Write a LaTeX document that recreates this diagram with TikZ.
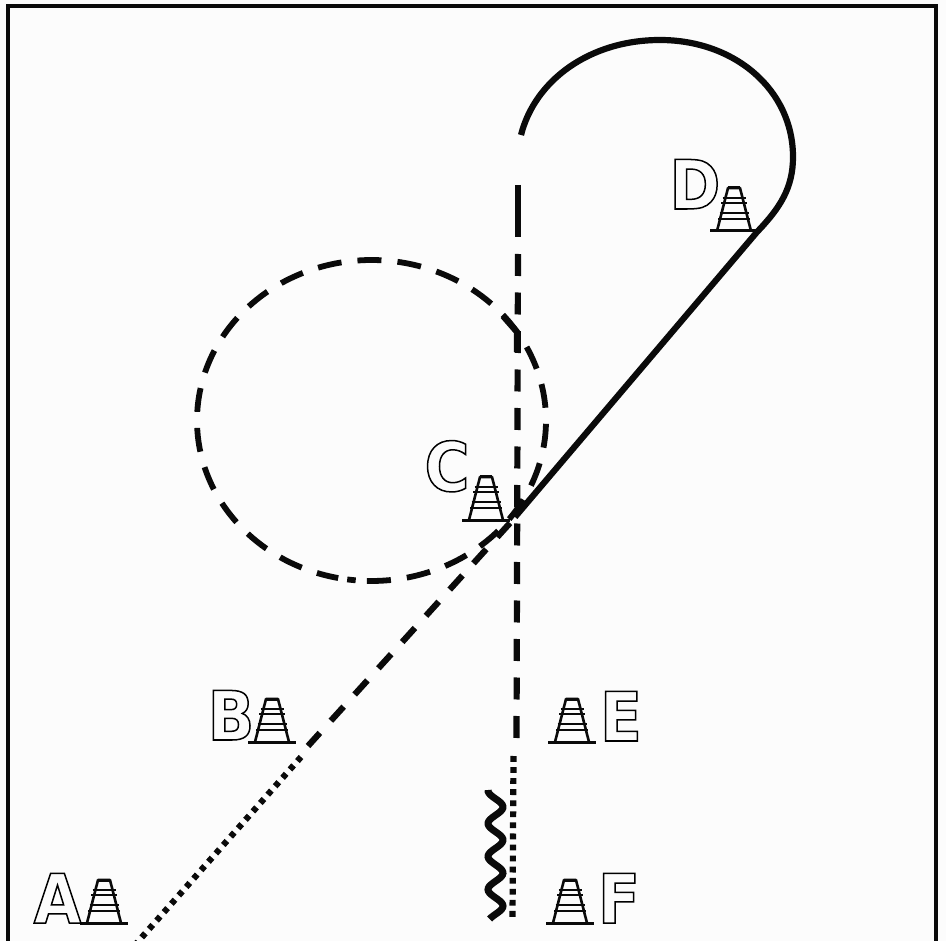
\documentclass[tikz,border=0pt]{standalone}
\usepackage{fontspec}
\setmainfont{Liberation Sans}
\newfontfamily\letterfont[FakeStretch=0.9]{DejaVu Sans Bold}
\newcommand{\outl}[1]{\special{pdf:code q 1 Tr 1.5 w}#1\special{pdf:code Q}}
\definecolor{ink}{HTML}{0A0A0A}
\tikzset{
  x=1pt,y=-1pt,
  route/.style={draw=ink,line width=6.2pt},
  dashroute/.style={route,dash pattern=on 22pt off 16.5pt},
  dotroute/.style={draw=ink,line width=6.2pt,dash pattern=on 5.8pt off 5.27pt},
  letter/.style={font=\letterfont\fontsize{68}{68}\selectfont,inner sep=0pt,anchor=base},
  pics/cone/.style={code={
    \draw[ink,line width=3pt] (-24,0) -- (24,0);
    \draw[ink,line width=2.6pt,line join=round] (-17,0) -- (-6,-43) -- (6,-43) -- (17,0);
    \draw[ink,line width=3pt] (-6,-43) -- (6,-43);
    \draw[ink,line width=2.2pt] (-11.5,-33) -- (11.5,-33) (-13,-28) -- (13,-28);
    \draw[ink,line width=2.2pt] (-14.5,-18) -- (14.5,-18) (-16,-12) -- (16,-12);
  }}
}
\begin{document}
\begin{tikzpicture}
\useasboundingbox (0,0) rectangle (946,941);
\fill[fill=white!99!black] (0,0) rectangle (946,941);
\clip (0,0) rectangle (946,941);
% frame
\draw[ink,line width=3.8pt] (8,945) -- (8,6) -- (936,6) -- (936,945);
% points
\coordinate (hub) at (515,517);
\coordinate (tan) at (757,232);
\coordinate (arcend) at (521,135);
\coordinate (vtop) at (518,185);
\coordinate (vlong) at (518,237);
\coordinate (vdash) at (518,254);
\coordinate (vlow) at (516.5,741);
\coordinate (dottop) at (513.5,756);
\coordinate (dotbot) at (512.5,918);
\coordinate (dstart) at (510,523);
\coordinate (dend) at (308,746);
\coordinate (dotstart) at (301,757);
\coordinate (dotend) at (135,945);
% solid teardrop
\draw[route] (hub) -- (tan) .. controls (780,208) and (793,188) .. (793,157)
  .. controls (793,90) and (735,40) .. (660,40)
  .. controls (590,40) and (535,80) .. (arcend);
% vertical
\draw[route] (vtop) -- (vlong);
\draw[dashroute] (vdash) -- (vlow);
\draw[dotroute] (dottop) -- (dotbot);
% diagonal
\draw[route,dash pattern=on 19pt off 16.4pt] (dstart) -- (dend);
\draw[dotroute,dash pattern=on 5.4pt off 5.8pt] (dotstart) -- (dotend);
% big dashed loop
\draw[route,line width=5.8pt,dash pattern=on 24pt off 16.08pt]
  plot[domain=91.5:-259,samples=240,variable=\t] ({371.5+174.5*cos(\t)},{420.5+160.5*sin(\t)});
\draw[route,line width=5.8pt] ({371.5+174.5*cos(98)},{420.5+160.5*sin(98)}) -- ({371.5+174.5*cos(95.2)},{420.5+160.5*sin(95.2)});
% link of loop into vertical
\draw[route,line join=round] (503,316) -- (517,332) -- (517,352);
% squiggle
\draw[draw=ink,line width=7pt] plot[domain=790:919,samples=80,variable=\t] ({495.5+7.5*cos((\t-807)/33*360)},\t);
% cones
\path (104,923) pic {cone};
\path (272,742) pic {cone};
\path (486,520) pic {cone};
\path (734,231) pic {cone};
\path (572,742) pic {cone};
\path (570,923) pic {cone};
% letters
\node[letter] (la) at (57.5,923) {\outl{A}};
\node[letter] (lb) at (231,740) {\outl{B}};
\node[letter] (lc) at (447,491) {\outl{C}};
\node[letter] (ld) at (695,209) {\outl{D}};
\node[letter] (le) at (621,741) {\outl{E}};
\node[letter] (lf) at (619,923) {\outl{F}};
\end{tikzpicture}
\end{document}
